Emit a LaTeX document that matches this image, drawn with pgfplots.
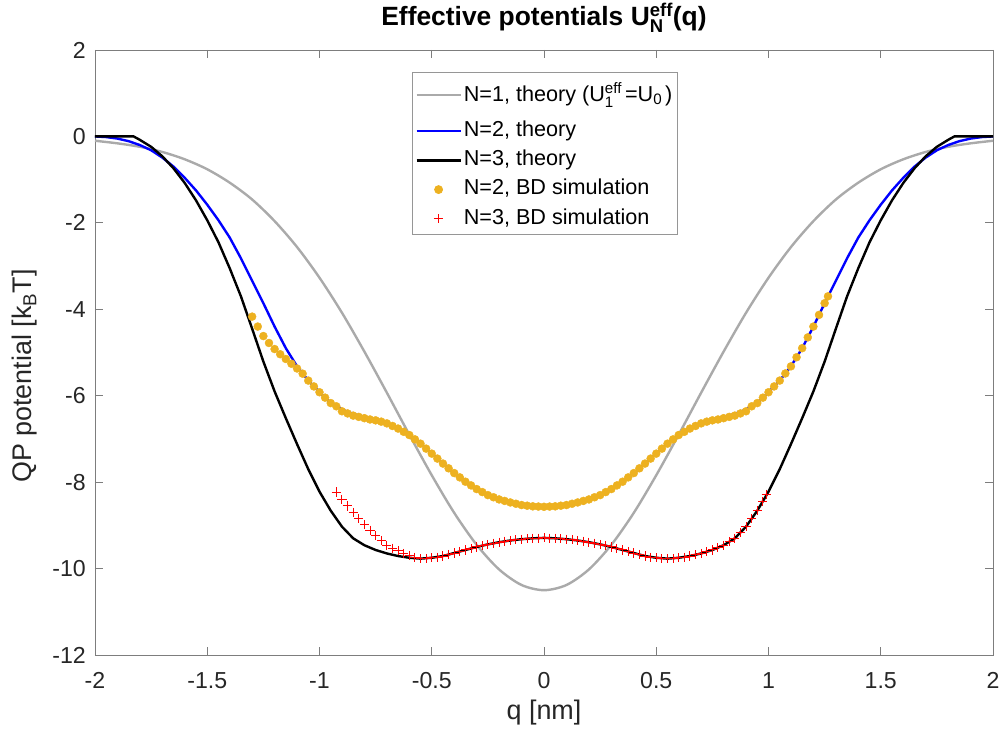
\documentclass[border=0pt]{standalone}
\usepackage{fontspec}
\setmainfont{Liberation Sans}
\usepackage{amsmath}
\usepackage{pgfplots}
\pgfplotsset{compat=1.18}
\definecolor{ngray}{RGB}{170,170,170}
\definecolor{morange}{RGB}{237,177,32}
\definecolor{axgray}{RGB}{125,125,125}
\definecolor{lgray}{RGB}{150,150,150}
\definecolor{txtgray}{RGB}{38,38,38}
\begin{document}
\begin{tikzpicture}
\begin{axis}[
 name=ax,
 scale only axis, width=898bp, height=605bp,
 xmin=-2, xmax=2, ymin=-12, ymax=2,
 xtick={-2,-1.5,-1,-0.5,0,0.5,1,1.5,2},
 xticklabels={-2,-1.5,-1,-0.5,0,0.5,1,1.5,2},
 ytick={-12,-10,-8,-6,-4,-2,0,2},
 yticklabels={-12,-10,-8,-6,-4,-2,0,2},
 tick align=inside, tick pos=both, major tick length=8bp,
 axis line style={axgray, line width=0.9bp},
 every tick/.style={axgray, line width=0.9bp},
 tick label style={font=\fontsize{23.2}{27}\selectfont, text=txtgray, inner sep=0pt},
 xticklabel style={anchor=north, yshift=-17bp},
 yticklabel style={anchor=east, xshift=-9bp},
 xlabel={q [nm]},
 ylabel={QP potential [k$_{\text{B}}$T]},
 label style={font=\fontsize{27}{32}\selectfont, text=txtgray},
 xlabel style={at={(axis description cs:0.5,-0.0959)}, anchor=center},
 ylabel style={at={(axis description cs:-0.078,0.461)}, anchor=center},
 title={\textbf{Effective potentials U$_{\text{N}}^{\text{eff}}$(q)}},
 title style={font=\fontsize{26.5}{31}\selectfont, at={(axis description cs:0.5,1.0314)}, anchor=base, inner sep=0pt},
 legend style={at={(0.353,0.9636)}, anchor=north west, draw=lgray, line width=0.8bp, fill=white,
   font=\fontsize{21.7}{25}\selectfont, inner xsep=3bp, inner ysep=3bp, row sep=4.5bp,
   nodes={inner sep=2bp, text depth=5bp}},
 legend cell align=left,
 legend image code/.code={\draw[mark repeat=2,mark phase=2,#1] plot coordinates {(0bp,0bp)(22bp,0bp)(44bp,0bp)};},
]
% N=1 theory
\addplot[ngray, line width=2.4bp, smooth] coordinates {
(-2,-0.10)(-1.9,-0.16)(-1.8,-0.24)(-1.7,-0.36)(-1.6,-0.53)(-1.5,-0.76)(-1.4,-1.07)(-1.3,-1.46)(-1.2,-1.96)(-1.1,-2.56)
(-1.0,-3.27)(-0.9,-4.08)(-0.8,-4.98)(-0.7,-5.93)(-0.6,-6.90)(-0.5,-7.84)(-0.4,-8.71)(-0.3,-9.45)(-0.2,-10.02)(-0.1,-10.38)
(0,-10.50)
(0.1,-10.38)(0.2,-10.02)(0.3,-9.45)(0.4,-8.71)(0.5,-7.84)(0.6,-6.90)(0.7,-5.93)(0.8,-4.98)(0.9,-4.08)(1.0,-3.27)
(1.1,-2.56)(1.2,-1.96)(1.3,-1.46)(1.4,-1.07)(1.5,-0.76)(1.6,-0.53)(1.7,-0.36)(1.8,-0.24)(1.9,-0.16)(2,-0.10)
};
\addlegendentry[text height=24bp, text depth=11bp]{N=1, theory (U$_{\text{1}}^{\text{eff}}$\kern3bp=U$_{\text{0}}$\kern3bp)}
% N=2 theory
\addplot[blue, line width=2.4bp] coordinates {
(-2,0)(-1.95,-0.015)(-1.9,-0.05)(-1.85,-0.11)(-1.8,-0.20)(-1.75,-0.32)(-1.7,-0.49)(-1.65,-0.70)(-1.6,-0.96)(-1.55,-1.25)
(-1.5,-1.58)(-1.45,-1.94)(-1.4,-2.34)(-1.35,-2.82)(-1.3,-3.34)(-1.25,-3.86)(-1.2,-4.40)(-1.15,-4.90)(-1.1,-5.32)(-1.05,-5.65)
(-1.0,-5.92)(-0.95,-6.17)(-0.9,-6.32)(-0.85,-6.42)(-0.8,-6.49)(-0.75,-6.56)(-0.7,-6.64)(-0.65,-6.76)(-0.6,-6.91)(-0.55,-7.11)
(-0.5,-7.34)(-0.45,-7.57)(-0.4,-7.79)(-0.35,-7.99)(-0.3,-8.16)(-0.25,-8.30)(-0.2,-8.40)(-0.15,-8.47)(-0.1,-8.53)(-0.05,-8.56)
(0,-8.57)
(0.05,-8.56)(0.1,-8.53)(0.15,-8.47)(0.2,-8.40)(0.25,-8.30)(0.3,-8.16)(0.35,-7.99)(0.4,-7.79)(0.45,-7.57)(0.5,-7.34)
(0.55,-7.11)(0.6,-6.91)(0.65,-6.76)(0.7,-6.64)(0.75,-6.56)(0.8,-6.49)(0.85,-6.42)(0.9,-6.32)(0.95,-6.17)(1.0,-5.92)
(1.05,-5.65)(1.1,-5.32)(1.15,-4.90)(1.2,-4.40)(1.25,-3.86)(1.3,-3.34)(1.35,-2.82)(1.4,-2.34)(1.45,-1.94)(1.5,-1.58)
(1.55,-1.25)(1.6,-0.96)(1.65,-0.70)(1.7,-0.49)(1.75,-0.32)(1.8,-0.20)(1.85,-0.11)(1.9,-0.05)(1.95,-0.015)(2,0)
};
\addlegendentry{N=2, theory}
% N=3 theory
\addplot[black, line width=2.4bp] coordinates {
(-2,0)(-1.828,0)(-1.8,-0.08)(-1.75,-0.24)(-1.7,-0.46)(-1.65,-0.74)(-1.6,-1.08)(-1.55,-1.48)(-1.5,-1.94)(-1.45,-2.45)
(-1.4,-3.05)(-1.35,-3.70)(-1.3,-4.45)(-1.25,-5.21)(-1.2,-5.90)(-1.15,-6.52)(-1.1,-7.12)(-1.05,-7.70)(-1.0,-8.22)(-0.95,-8.66)
(-0.9,-9.03)(-0.85,-9.30)(-0.8,-9.46)(-0.75,-9.57)(-0.7,-9.65)(-0.65,-9.71)(-0.6,-9.75)(-0.55,-9.77)(-0.5,-9.75)(-0.45,-9.71)
(-0.4,-9.64)(-0.35,-9.57)(-0.3,-9.50)(-0.25,-9.44)(-0.2,-9.39)(-0.15,-9.35)(-0.1,-9.32)(-0.05,-9.30)
(0,-9.29)
(0.05,-9.30)(0.1,-9.32)(0.15,-9.35)(0.2,-9.39)(0.25,-9.44)(0.3,-9.50)(0.35,-9.57)(0.4,-9.64)(0.45,-9.71)(0.5,-9.75)
(0.55,-9.77)(0.6,-9.75)(0.65,-9.71)(0.7,-9.65)(0.75,-9.57)(0.8,-9.46)(0.85,-9.30)(0.9,-9.03)(0.95,-8.66)(1.0,-8.22)
(1.05,-7.70)(1.1,-7.12)(1.15,-6.52)(1.2,-5.90)(1.25,-5.21)(1.3,-4.45)(1.35,-3.70)(1.4,-3.05)(1.45,-2.45)(1.5,-1.94)
(1.55,-1.48)(1.6,-1.08)(1.65,-0.74)(1.7,-0.46)(1.75,-0.24)(1.8,-0.08)(1.828,0)(2,0)
};
\addlegendentry{N=3, theory}
% N=2 BD simulation
\addplot[only marks, mark=*, mark size=4bp, color=morange, mark options={fill=morange, draw=morange}] coordinates {
(-1.300,-4.17)(-1.275,-4.40)(-1.250,-4.62)(-1.225,-4.78)(-1.200,-4.92)(-1.175,-5.04)(-1.150,-5.15)(-1.125,-5.26)
(-1.100,-5.37)(-1.075,-5.49)(-1.050,-5.65)(-1.025,-5.785)(-1.000,-5.92)(-0.975,-6.045)(-0.950,-6.17)(-0.925,-6.245)
(-0.900,-6.36)(-0.875,-6.41)(-0.850,-6.46)(-0.825,-6.49)(-0.800,-6.52)(-0.775,-6.55)(-0.750,-6.57)(-0.725,-6.60)
(-0.700,-6.64)(-0.675,-6.70)(-0.650,-6.76)(-0.625,-6.835)(-0.600,-6.91)(-0.575,-7.01)(-0.550,-7.11)(-0.525,-7.225)
(-0.500,-7.34)(-0.475,-7.455)(-0.450,-7.57)(-0.425,-7.68)(-0.400,-7.79)(-0.375,-7.89)(-0.350,-7.99)(-0.325,-8.075)
(-0.300,-8.16)(-0.275,-8.23)(-0.250,-8.30)(-0.225,-8.35)(-0.200,-8.40)(-0.175,-8.435)(-0.150,-8.47)(-0.125,-8.50)
(-0.100,-8.53)(-0.075,-8.545)(-0.050,-8.56)(-0.025,-8.565)(0,-8.57)
(0.025,-8.565)(0.050,-8.56)(0.075,-8.545)(0.100,-8.53)(0.125,-8.50)(0.150,-8.47)(0.175,-8.435)(0.200,-8.40)
(0.225,-8.35)(0.250,-8.30)(0.275,-8.23)(0.300,-8.16)(0.325,-8.075)(0.350,-7.99)(0.375,-7.89)(0.400,-7.79)
(0.425,-7.68)(0.450,-7.57)(0.475,-7.455)(0.500,-7.34)(0.525,-7.225)(0.550,-7.11)(0.575,-7.01)(0.600,-6.91)
(0.625,-6.835)(0.650,-6.76)(0.675,-6.70)(0.700,-6.64)(0.725,-6.60)(0.750,-6.57)(0.775,-6.55)(0.800,-6.52)
(0.825,-6.49)(0.850,-6.46)(0.875,-6.41)(0.900,-6.36)(0.925,-6.245)(0.950,-6.17)(0.975,-6.045)(1.000,-5.92)
(1.025,-5.785)(1.050,-5.65)(1.075,-5.485)(1.100,-5.32)(1.125,-5.11)(1.150,-4.90)(1.175,-4.65)(1.200,-4.40)
(1.225,-4.13)(1.250,-3.86)(1.265,-3.70)
};
\addlegendentry{N=2, BD simulation}
% N=3 BD simulation
\addplot[only marks, mark=+, mark size=4.6bp, color=red, mark options={line width=1bp}] coordinates {
(-0.925,-8.23)(-0.900,-8.40)(-0.875,-8.55)(-0.850,-8.70)(-0.825,-8.85)(-0.800,-8.98)(-0.775,-9.11)(-0.750,-9.24)
(-0.725,-9.35)(-0.700,-9.46)(-0.675,-9.53)(-0.650,-9.59)(-0.625,-9.65)(-0.600,-9.70)(-0.575,-9.74)(-0.550,-9.77)
(-0.525,-9.765)(-0.500,-9.75)(-0.475,-9.735)(-0.450,-9.71)(-0.425,-9.675)(-0.400,-9.64)(-0.375,-9.605)(-0.350,-9.57)
(-0.325,-9.535)(-0.300,-9.50)(-0.275,-9.47)(-0.250,-9.44)(-0.225,-9.415)(-0.200,-9.39)(-0.175,-9.37)(-0.150,-9.35)
(-0.125,-9.335)(-0.100,-9.32)(-0.075,-9.31)(-0.050,-9.30)(-0.025,-9.295)(0,-9.29)
(0.025,-9.295)(0.050,-9.30)(0.075,-9.31)(0.100,-9.32)(0.125,-9.335)(0.150,-9.35)(0.175,-9.37)(0.200,-9.39)
(0.225,-9.415)(0.250,-9.44)(0.275,-9.47)(0.300,-9.50)(0.325,-9.535)(0.350,-9.57)(0.375,-9.605)(0.400,-9.64)
(0.425,-9.675)(0.450,-9.71)(0.475,-9.735)(0.500,-9.75)(0.525,-9.765)(0.550,-9.77)(0.575,-9.765)(0.600,-9.75)
(0.625,-9.735)(0.650,-9.71)(0.675,-9.68)(0.700,-9.65)(0.725,-9.61)(0.750,-9.57)(0.775,-9.515)(0.800,-9.46)
(0.825,-9.38)(0.850,-9.30)(0.875,-9.165)(0.900,-9.03)(0.925,-8.845)(0.950,-8.66)(0.975,-8.44)(0.990,-8.28)
};
\addlegendentry{N=3, BD simulation}
\end{axis}
\pgfresetboundingbox
\path ([shift={(-95bp,-76bp)}]ax.south west) rectangle ([shift={(15bp,50bp)}]ax.north east);
\end{tikzpicture}
\end{document}
